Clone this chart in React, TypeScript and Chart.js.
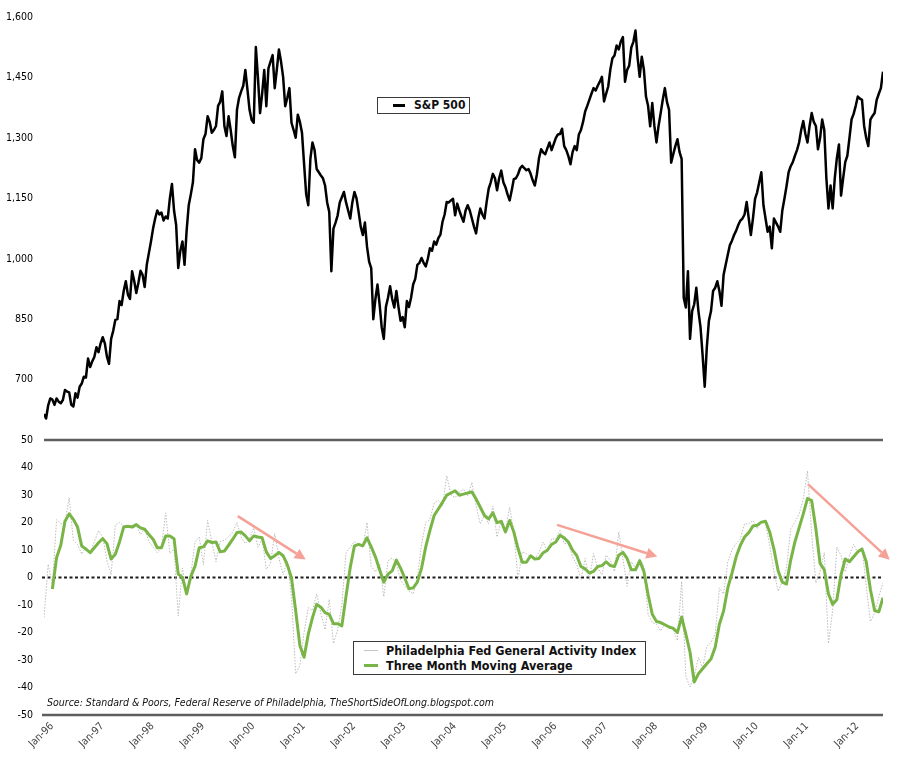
import React, { useEffect, useRef } from "react";
import { Chart, registerables } from "chart.js";

Chart.register(...registerables);

const FONT = "'DejaVu Sans Condensed', 'DejaVu Sans', sans-serif";

const xLabels = [
  "Jan-96", "Jan-97", "Jan-98", "Jan-99", "Jan-00", "Jan-01", "Jan-02", "Jan-03", "Jan-04",
  "Jan-05", "Jan-06", "Jan-07", "Jan-08", "Jan-09", "Jan-10", "Jan-11", "Jan-12",
];
const spxTicks = [700, 850, 1000, 1150, 1300, 1450, 1600];
const phillyTicks = [-50, -40, -30, -20, -10, 0, 10, 20, 30, 40, 50];

// S&P 500, two readings a month starting Jan-96
const spx = [
  614, 603, 636, 653, 650, 637, 653, 645, 641, 649, 674, 670, 668, 637, 633, 666, 655, 682, 690, 707, 705, 752, 731, 745,
  756, 780, 768, 790, 805, 790, 757, 739, 801, 821, 848, 850, 895, 885, 920, 944, 911, 900, 969, 945, 915, 940, 970, 960,
  930, 985, 1014, 1043, 1075, 1100, 1120, 1110, 1115, 1095, 1105, 1100, 1150, 1186, 1120, 1084, 977, 1020, 1043, 985, 1070, 1133, 1160, 1190,
  1272, 1245, 1239, 1250, 1297, 1310, 1354, 1340, 1313, 1320, 1330, 1380, 1390, 1416, 1330, 1305, 1354, 1320, 1280, 1252, 1370, 1400, 1416, 1430,
  1469, 1420, 1370, 1345, 1338, 1526, 1450, 1362, 1410, 1469, 1379, 1473, 1490, 1506, 1424, 1470, 1520, 1490, 1452, 1379, 1400, 1424, 1338, 1320,
  1301, 1358, 1340, 1313, 1235, 1160, 1133, 1248, 1289, 1270, 1223, 1215, 1207, 1200, 1182, 1140, 1116, 969, 1075, 1090, 1108, 1140, 1153, 1166,
  1140, 1120, 1100, 1140, 1166, 1150, 1116, 1080, 1059, 1090, 1030, 993, 977, 850, 900, 936, 887, 830, 801, 880, 903, 932, 900, 879,
  920, 880, 846, 855, 830, 895, 880, 903, 936, 950, 985, 990, 1002, 990, 981, 1000, 1026, 1020, 1043, 1035, 1051, 1060, 1092, 1110,
  1141, 1140, 1145, 1149, 1108, 1137, 1120, 1105, 1092, 1120, 1133, 1120, 1100, 1080, 1063, 1100, 1125, 1110, 1100, 1140, 1174, 1190, 1211, 1200,
  1170, 1200, 1219, 1190, 1178, 1160, 1145, 1170, 1198, 1200, 1210, 1225, 1231, 1225, 1220, 1223, 1211, 1195, 1182, 1210, 1250, 1272, 1264, 1260,
  1275, 1289, 1270, 1285, 1300, 1309, 1310, 1323, 1280, 1270, 1255, 1235, 1265, 1280, 1270, 1309, 1320, 1340, 1366, 1380, 1395, 1410, 1424, 1418,
  1430, 1440, 1452, 1391, 1410, 1428, 1470, 1498, 1505, 1530, 1520, 1540, 1551, 1440, 1469, 1480, 1525, 1539, 1567, 1500, 1452, 1502, 1470, 1403,
  1380, 1329, 1387, 1330, 1289, 1330, 1362, 1395, 1424, 1390, 1370, 1239, 1260, 1280, 1297, 1265, 1248, 903, 879, 969, 801, 870, 887, 928,
  870, 830, 760, 682, 780, 846, 870, 920, 928, 944, 920, 883, 960, 985, 1010, 1034, 1045, 1059, 1070, 1084, 1095, 1100, 1110, 1141,
  1100, 1059, 1100, 1149, 1165, 1190, 1215, 1133, 1100, 1067, 1080, 1026, 1100, 1090, 1080, 1067, 1120, 1149, 1180, 1215, 1230, 1240, 1256, 1270,
  1289, 1320, 1342, 1310, 1289, 1330, 1362, 1340, 1330, 1272, 1300, 1346, 1320, 1200, 1125, 1182, 1125, 1200, 1250, 1284, 1157, 1200, 1240, 1256,
  1300, 1346, 1360, 1380, 1403, 1398, 1395, 1330, 1300, 1280, 1346, 1355, 1362, 1395, 1410, 1424, 1465,
];

// Philadelphia Fed General Activity Index, monthly from Jan-96
const philly = [
  -14.6, 4.8, -3, 21, 19.5, 20, 29, 13.5, 12, 8.5, 11, 9,
  13, 17, 14.7, 6, 1, 19, 20, 18.7, 18.3, 19, 19, 15.6,
  17.7, 13, 11, 9, 11, 23.5, 8.7, 10.3, -14, 3.4, -5.6, 1,
  13, 14.7, 4.6, 20.7, 13, 5.7, 13, 13.5, 14.7, 16.5, 20, 14.7,
  12.3, 14.1, 18, 11, 14, 3, 5, 16, 7, 1, 6, -7,
  -35, -32, -20, -11, -12, -6, -13, -19, -8, -24, -19, -10,
  9, 11, 13, 12, 11, 20, 4, 2, 5, -7, 6, 7,
  5, -1, -3, -5, -6, 0, 12, 20, 21, 27, 28, 26,
  37, 30, 29, 31, 32, 29.7, 34.5, 26, 19.5, 22.5, 19.5, 26,
  14.7, 20.7, 17, 25.5, 16.5, -0.8, 9.3, 8.7, 7.5, 6.3, 9.3, 12.9,
  9.3, 14.1, 13.9, 17.1, 12.3, 12.3, 7.5, 4.6, -0.8, 6.9, -0.8, 8.7,
  3.4, 1, 8.1, 6.3, 2.2, 16.5, 6.9, -3.2, 5.7, 3.4, 6.9, 4,
  -13.4, -16.4, -17, -19.4, -17, -17.6, -18.8, -23, -1.4, -36, -39.8, -36,
  -29, -33, -25, -23.6, -20.6, -3.8, -6, 5.7, 10, 12.3, 14.1, 19.5,
  19.5, 20.7, 17.7, 20.1, 19.5, 11.7, 2.2, -5, -1.4, 3.4, 17.7, 20.1,
  23.1, 28.5, 38.7, 16, -2, 2, 9, -24, -12, 11, 8, 2,
  8, 12, 9, 11, -3, -16, -13, -7, -2,
];

// three month moving average, first value Mar-96
const phillyAvg = [
  -4.2, 7.2, 11.7, 20.4, 23.1, 21.1, 18.3, 11.4, 10.3, 9.0,
  10.8, 12.6, 14.1, 12.3, 6.7, 8.4, 12.9, 18.3, 18.6, 18.3, 19.2, 18.0,
  17.5, 15.6, 13.9, 10.8, 10.8, 15.1, 15.1, 14.1, 1.2, 0, -6.0, 0.4,
  4.0, 10.8, 11.1, 13.3, 12.7, 12.9, 9.3, 9.6, 11.7, 13.9, 16.3, 16.5,
  15.1, 13.3, 15.1, 14.7, 14.4, 9.3, 6.9, 7.9, 9.1, 7.9, 4.6, -0.2,
  -12.2, -24.8, -29, -20.6, -14.6, -9.8, -10.8, -12.8, -13.4, -16.8, -16.8, -17.6,
  -6.8, 3.6, 11.5, 12.0, 11.5, 14.4, 11.1, 7.5, 2.8, -1.7, 1.2, 2.4,
  6.3, 3.4, -0.2, -4.1, -3.8, -1.7, 3.4, 11.1, 17.1, 22.5, 24.9, 27.3,
  29.9, 30.7, 31.5, 29.9, 30.3, 30.7, 31.1, 28.5, 25.5, 22.5, 21.3, 23.5,
  19.9, 20.4, 16.5, 20.7, 16.5, 10.5, 5.5, 5.5, 7.9, 6.7, 6.9, 9.0,
  9.9, 12.0, 12.9, 15.3, 14.4, 12.9, 9.9, 7.9, 4.0, 3.1, 1.6, 2.2,
  4.0, 4.3, 5.7, 4.3, 4.0, 8.1, 9.1, 6.9, 2.8, 2.8, 6.0, 2.2,
  -6.2, -13.4, -16.0, -16.4, -17.2, -18.0, -18.5, -20, -14.4, -20.6, -27.2, -38,
  -35, -33.2, -31.4, -29.6, -25.4, -17, -12.2, -3.8, 1.6, 7.5, 11.7, 14.7,
  16.3, 18.7, 19.0, 20.1, 20.4, 16.5, 10.3, 2.4, -1.7, -2.4, 6.3, 12.9,
  18.0, 23.1, 28.7, 27.9, 17.7, 5.1, 2.8, -6, -9.8, -8.0, 1.0, 6.7,
  5.7, 7.5, 9.3, 10.3, 5.7, -4.4, -12, -12.5, -7.4,
];

// annotation arrows, [month index from Jan-96, index value]
const arrows = [
  { from: [46.2, 22.3], to: [62.4, 6.5] },
  { from: [122.3, 19.1], to: [146.2, 7.6] },
  { from: [182.1, 33.9], to: [201.6, 6.4] },
];

const GREEN = "#79b546";
const ARROW = "#f6a197";

const panelLines = {
  id: "panelLines",
  beforeDatasetsDraw(chart: any) {
    const { ctx, chartArea } = chart;
    const y = chart.scales.yPhil;
    const y0 = y.getPixelForValue(0);
    ctx.save();
    ctx.setLineDash([3, 2.5]);
    ctx.lineWidth = 2;
    ctx.strokeStyle = "#1c1c1c";
    ctx.beginPath();
    ctx.moveTo(chartArea.left - 2, y0);
    ctx.lineTo(chartArea.right, y0);
    ctx.stroke();
    ctx.restore();
  },
  afterDatasetsDraw(chart: any) {
    const { ctx, chartArea } = chart;
    const x = chart.scales.x;
    const y = chart.scales.yPhil;
    ctx.save();
    ctx.strokeStyle = "#5e5e5e";
    ctx.lineWidth = 2.5;
    [50, -50].forEach((v) => {
      const py = y.getPixelForValue(v);
      ctx.beginPath();
      ctx.moveTo(chartArea.left - (v < 0 ? 2 : 0), py);
      ctx.lineTo(chartArea.right, py);
      ctx.stroke();
    });

    // arrows
    ctx.strokeStyle = ARROW;
    ctx.fillStyle = ARROW;
    ctx.lineWidth = 2.5;
    arrows.forEach((a) => {
      const x1 = x.getPixelForValue(a.from[0]);
      const y1 = y.getPixelForValue(a.from[1]);
      const x2 = x.getPixelForValue(a.to[0]);
      const y2 = y.getPixelForValue(a.to[1]);
      const ang = Math.atan2(y2 - y1, x2 - x1);
      const head = 11;
      const half = 5.5;
      const bx = x2 - head * Math.cos(ang);
      const by = y2 - head * Math.sin(ang);
      ctx.beginPath();
      ctx.moveTo(x1, y1);
      ctx.lineTo(bx, by);
      ctx.stroke();
      ctx.beginPath();
      ctx.moveTo(x2, y2);
      ctx.lineTo(bx + half * Math.sin(ang), by - half * Math.cos(ang));
      ctx.lineTo(bx - half * Math.sin(ang), by + half * Math.cos(ang));
      ctx.closePath();
      ctx.fill();
    });
    ctx.restore();
  },
};

const App: React.FC = () => {
  const canvasRef = useRef<HTMLCanvasElement>(null);
  const chartRef = useRef<Chart | null>(null);

  useEffect(() => {
    document.body.style.margin = "0";
    if (!canvasRef.current) return;
    const ctx = canvasRef.current.getContext("2d");
    if (!ctx) return;

    const tickFont = { family: FONT, size: 10.5 };

    chartRef.current = new Chart(ctx, {
      type: "line",
      data: {
        datasets: [
          {
            label: "Three Month Moving Average",
            data: phillyAvg.map((v, i) => ({ x: i + 2, y: v })),
            yAxisID: "yPhil",
            borderColor: GREEN,
            borderWidth: 3,
            pointRadius: 0,
            borderJoinStyle: "round",
            order: 0,
          },
          {
            label: "Philadelphia Fed General Activity Index",
            data: philly.map((v, i) => ({ x: i, y: v })),
            yAxisID: "yPhil",
            borderColor: "#bcbcbc",
            borderWidth: 1,
            borderDash: [1.5, 1.5],
            pointRadius: 0,
            order: 2,
          },
          {
            label: "S&P 500",
            data: spx.map((v, i) => ({ x: i / 2, y: v })),
            yAxisID: "ySpx",
            borderColor: "#000",
            borderWidth: 2.5,
            pointRadius: 0,
            borderJoinStyle: "round",
            order: 1,
          },
        ],
      },
      options: {
        responsive: false,
        animation: false,
        layout: { padding: { top: 10, right: 17, left: 0, bottom: 0 } },
        plugins: {
          legend: { display: false },
          tooltip: { enabled: false },
        },
        scales: {
          x: {
            type: "linear",
            position: "bottom",
            min: 0,
            max: 200,
            grid: { display: false, drawTicks: false },
            border: { display: false },
            afterBuildTicks: (scale: any) => {
              scale.ticks = xLabels.map((_, i) => ({ value: i * 12 }));
            },
            afterFit: (scale: any) => {
              scale.height = 44;
            },
            ticks: {
              autoSkip: false,
              minRotation: 45,
              maxRotation: 45,
              padding: 5,
              labelOffset: 8,
              color: "#444",
              font: { family: FONT, size: 10.5 },
              callback: (v: any) => xLabels[Math.round(Number(v) / 12)] ?? "",
            },
          },
          yPhil: {
            type: "linear",
            position: "left",
            stack: "panels",
            stackWeight: 278,
            min: -50,
            max: 50,
            grid: { display: false, drawTicks: false },
            border: { display: false },
            afterBuildTicks: (scale: any) => {
              scale.ticks = phillyTicks.map((v) => ({ value: v }));
            },
            afterFit: (scale: any) => {
              scale.width = 44;
            },
            ticks: { autoSkip: false, padding: 11, color: "#000", font: tickFont },
          },
          ySpx: {
            type: "linear",
            position: "left",
            stack: "panels",
            stackWeight: 427,
            min: 550,
            max: 1600,
            grid: { display: false, drawTicks: false },
            border: { display: false },
            afterBuildTicks: (scale: any) => {
              scale.ticks = spxTicks.map((v) => ({ value: v }));
            },
            afterFit: (scale: any) => {
              scale.width = 44;
            },
            ticks: {
              autoSkip: false,
              padding: 11,
              color: "#000",
              font: tickFont,
              callback: (v: any) => Number(v).toLocaleString("en-US"),
            },
          },
        },
      },
      plugins: [panelLines],
    });

    return () => {
      if (chartRef.current) {
        chartRef.current.destroy();
        chartRef.current = null;
      }
    };
  }, []);

  return (
    <div style={{ position: "relative", width: 900, height: 759, fontFamily: FONT, background: "#fff" }}>
      <canvas ref={canvasRef} width={900} height={759} style={{ display: "block" }} />
      <div
        style={{
          position: "absolute",
          left: 377,
          top: 97,
          width: 93,
          height: 17,
          boxSizing: "border-box",
          border: "1px solid #3a3a3a",
          background: "#fff",
        }}
      >
        <div style={{ position: "absolute", left: 15, top: 6, width: 12, height: 3, background: "#000" }} />
        <div style={{ position: "absolute", left: 36, top: 0, lineHeight: "15px", fontSize: 12, fontWeight: 700, color: "#111" }}>
          S&amp;P 500
        </div>
      </div>
      <div
        style={{
          position: "absolute",
          left: 353,
          top: 641,
          width: 293,
          height: 34,
          boxSizing: "border-box",
          border: "1px solid #3a3a3a",
          background: "#fff",
          fontSize: 12.5,
          fontWeight: 700,
          color: "#111",
        }}
      >
        <div style={{ position: "absolute", left: 10, top: 8, width: 14, height: 1, background: "#c4c4c4" }} />
        <div style={{ position: "absolute", left: 32, top: 1, lineHeight: "15px" }}>Philadelphia Fed General Activity Index</div>
        <div style={{ position: "absolute", left: 10, top: 22, width: 14, height: 3, background: GREEN }} />
        <div style={{ position: "absolute", left: 32, top: 16, lineHeight: "15px" }}>Three Month Moving Average</div>
      </div>
      <div
        style={{
          position: "absolute",
          left: 47,
          top: 696,
          fontSize: 10.5,
          fontStyle: "italic",
          color: "#111",
          whiteSpace: "nowrap",
        }}
      >
        Source: Standard &amp; Poors, Federal Reserve of Philadelphia, TheShortSideOfLong.blogspot.com
      </div>
    </div>
  );
};

export default App;
